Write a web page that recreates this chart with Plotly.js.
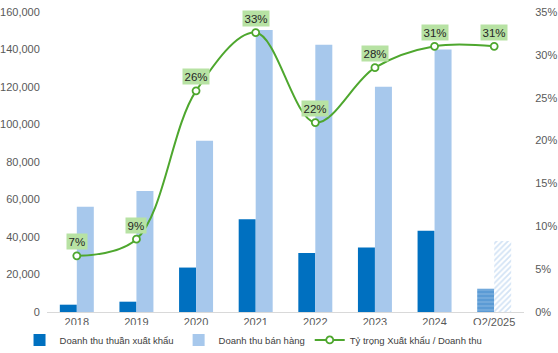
<!DOCTYPE html>
<html>
<head>
<meta charset="utf-8">
<script src="https://cdn.plot.ly/plotly-3.0.1.min.js"></script>
<style>html,body{margin:0;padding:0;background:#fff;}#chart{width:558px;height:353px;}</style>
</head>
<body>
<div id="chart"></div>
<script>
const categories = ['2018','2019','2020','2021','2022','2023','2024','Q2/2025'];
const exportRevenue = [3900, 5500, 23700, 49500, 31500, 34400, 43400, 12400];
const salesRevenue = [56200, 64600, 91300, 150400, 142600, 120100, 140000, 37900];
const exportShare = [6.55, 8.5, 25.8, 32.6, 22.1, 28.5, 31.0, 31.0];
const shareLabels = ['7%','9%','26%','33%','22%','28%','31%','31%'];
const leftTicks = [0, 20000, 40000, 60000, 80000, 100000, 120000, 140000, 160000];
const rightTicks = [0, 5, 10, 15, 20, 25, 30, 35];
const rightTickLabels = ['0%','5%','10%','15%','20%','25%','30%','35%'];
const seriesNames = ['Doanh thu thuần xuất khẩu', 'Doanh thu bán hàng', 'Tỷ trọng Xuất khẩu / Doanh thu'];

const last = categories.length - 1;
const fullCats = categories.slice(0, last);
const partCats = categories.slice(last);

const traces = [
  {type:'bar', name: seriesNames[0], x: fullCats, y: exportRevenue.slice(0, last), offsetgroup:'a',
   marker:{color:'#0070c0'}, hoverinfo:'skip'},
  {type:'bar', name: seriesNames[1], x: fullCats, y: salesRevenue.slice(0, last), offsetgroup:'b',
   marker:{color:'#a7c8ec'}, hoverinfo:'skip'},
  {type:'bar', name: seriesNames[0], x: partCats, y: exportRevenue.slice(last), offsetgroup:'a', showlegend:false,
   marker:{color:'#5b9bd5', pattern:{shape:'-', fillmode:'overlay', fgcolor:'#9dc3e6', size:4, solidity:0.35}},
   hoverinfo:'skip'},
  {type:'bar', name: seriesNames[1], x: partCats, y: salesRevenue.slice(last), offsetgroup:'b', showlegend:false,
   marker:{color:'#ffffff', pattern:{shape:'/', fillmode:'overlay', fgcolor:'#a7c8ec', size:4, solidity:0.45}},
   hoverinfo:'skip'},
  {type:'scatter', mode:'lines+markers', name: seriesNames[2], x: categories, y: exportShare, yaxis:'y2',
   line:{color:'#4ea72e', width:2, shape:'spline', smoothing:1},
   marker:{symbol:'circle', size:7, color:'#ffffff', line:{color:'#4ea72e', width:1.8}},
   hoverinfo:'skip'}
];

// on a category axis, annotation x is the category's serial index
const annotations = categories.map((c,i) => ({
  x: i, y: exportShare[i], xref:'x', yref:'y2', text: shareLabels[i],
  showarrow:false, yshift:14, bgcolor:'#b7e2a3', borderpad:1.5,
  font:{family:'Liberation Sans, Arial, sans-serif', size:11.5, color:'#262626'}
}));

const layout = {
  width:558, height:353,
  margin:{l:47, r:34, t:12, b:41, autoexpand:false},
  paper_bgcolor:'#ffffff', plot_bgcolor:'#ffffff',
  font:{family:'Liberation Sans, Arial, sans-serif', size:11, color:'#595959'},
  barmode:'group', bargap:0.43, bargroupgap:0,
  showlegend:true,
  legend:{orientation:'h', xref:'container', yref:'container', x:0.035, xanchor:'left', y:0.078, yanchor:'top',
          font:{size:9.5, color:'#404040'}, traceorder:'normal'},
  xaxis:{type:'category', categoryorder:'array', categoryarray:categories,
         showline:true, linecolor:'#d9d9d9', linewidth:1, ticks:'', showgrid:false,
         tickfont:{size:11, color:'#595959'}, fixedrange:true},
  yaxis:{range:[0,160000], tickvals:leftTicks, tickformat:',', showgrid:false, zeroline:false,
         ticks:'outside', ticklen:4, tickcolor:'rgba(0,0,0,0)', showline:false,
         tickfont:{size:11, color:'#595959'}, fixedrange:true},
  yaxis2:{overlaying:'y', side:'right', range:[0,35], tickmode:'array', tickvals:rightTicks, ticktext:rightTickLabels,
          showgrid:false, zeroline:false, ticks:'outside', ticklen:8, tickcolor:'rgba(0,0,0,0)',
          tickfont:{size:11, color:'#595959'}, fixedrange:true},
  annotations: annotations
};

Plotly.newPlot('chart', traces, layout, {displayModeBar:false, staticPlot:true});
</script>
</body>
</html>
